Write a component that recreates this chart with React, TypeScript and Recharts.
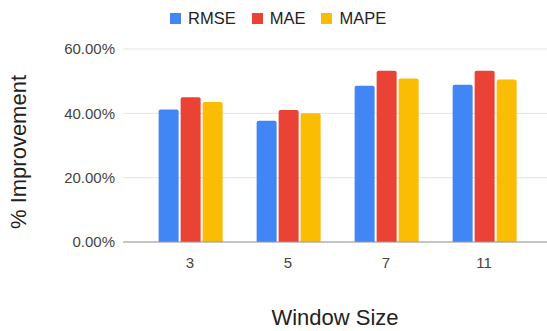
import React from "react";
import { BarChart, Bar, XAxis, YAxis, CartesianGrid, Legend, Label } from "recharts";

const categories = ["3", "5", "7", "11"];
const rmse = [41.2, 37.7, 48.6, 48.9];
const mae = [45.0, 41.0, 53.2, 53.2];
const mape = [43.5, 40.0, 50.8, 50.5];
const yTicks = [0, 20, 40, 60];

const seriesNames = ["RMSE", "MAE", "MAPE"];
const colors = ["#4285F4", "#EA4335", "#FBBC04"];

const data = categories.map((c, i) => ({
  window: c,
  RMSE: rmse[i],
  MAE: mae[i],
  MAPE: mape[i],
}));

const FONT = "'Liberation Sans', Arial, sans-serif";

const renderLegend = () => (
  <div style={{ height: 0, position: "relative" }}>
    <div
      style={{
        position: "absolute",
        top: 8,
        left: 170,
        display: "flex",
        alignItems: "center",
        fontFamily: FONT,
        fontSize: 16.5,
        color: "#222",
        whiteSpace: "nowrap",
      }}
    >
      {seriesNames.map((n, i) => (
        <div key={n} style={{ display: "flex", alignItems: "center", marginRight: 16 }}>
          <div style={{ width: 11, height: 11, background: colors[i], marginRight: 7 }} />
          <span style={{ lineHeight: "20px" }}>{n}</span>
        </div>
      ))}
    </div>
  </div>
);

export default function App() {
  return (
    <div style={{ position: "absolute", left: 0, top: 0, width: 547, height: 331, background: "#fff" }}>
      <BarChart
        width={547}
        height={331}
        data={data}
        margin={{ top: 49, right: 0, bottom: 0, left: 0 }}
        barCategoryGap="18%"
        barGap={2}
      >
        <CartesianGrid vertical={false} stroke="#e3e3e3" />
        <Legend
          verticalAlign="top"
          content={renderLegend}
          wrapperStyle={{ top: 0, left: 0, width: 547 }}
        />
        <XAxis
          dataKey="window"
          tickLine={false}
          axisLine={{ stroke: "#999" }}
          tick={{ fontSize: 15, fill: "#444", fontFamily: FONT }}
          tickMargin={9}
          height={89}
          padding={{ left: 18, right: 14 }}
        >
          <Label
            content={(props: any) => {
              const vb = props.viewBox || {};
              return (
                <text
                  x={vb.x + vb.width / 2}
                  y={vb.y + 83}
                  textAnchor="middle"
                  fontSize={22}
                  fontFamily={FONT}
                  fill="#222"
                >
                  Window Size
                </text>
              );
            }}
          />
        </XAxis>
        <YAxis
          width={123}
          domain={[0, 60]}
          ticks={yTicks}
          tickFormatter={(v: number) => v.toFixed(2) + "%"}
          tickLine={false}
          axisLine={false}
          tick={{ fontSize: 15, fill: "#444", fontFamily: FONT }}
        >
          <Label
            content={(props: any) => {
              const vb = props.viewBox || {};
              const cx = 26;
              const cy = vb.y + 103;
              return (
                <text
                  x={cx}
                  y={cy}
                  transform={`rotate(-90, ${cx}, ${cy})`}
                  textAnchor="middle"
                  fontSize={22}
                  fontFamily={FONT}
                  fill="#222"
                >
                  % Improvement
                </text>
              );
            }}
          />
        </YAxis>
        {seriesNames.map((n, i) => (
          <Bar key={n} dataKey={n} fill={colors[i]} radius={[2, 2, 0, 0]} isAnimationActive={false} />
        ))}
      </BarChart>
    </div>
  );
}
